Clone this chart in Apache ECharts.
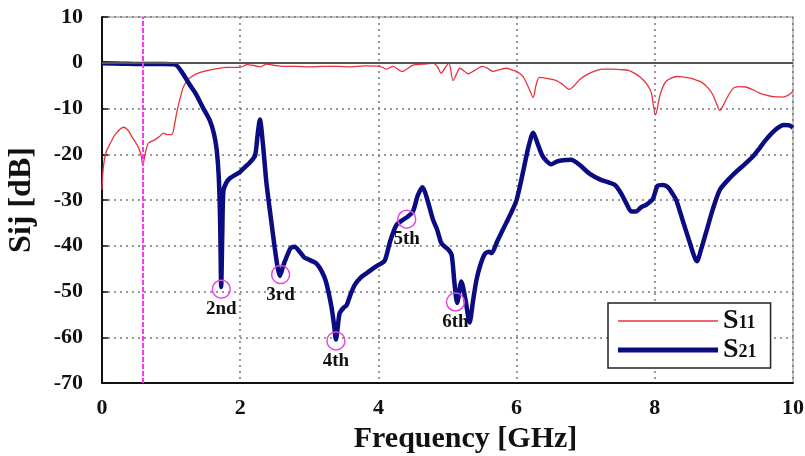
<!DOCTYPE html>
<html>
<head>
<meta charset="utf-8">
<script src="https://cdn.jsdelivr.net/npm/echarts@6/dist/echarts.min.js"></script>
<style>
  html, body { margin: 0; padding: 0; background: #fff; }
  #chart { width: 805px; height: 456px; }
</style>
</head>
<body>
<div id="chart"></div>
<script>
// Frequency axis ticks (GHz) and Sij axis ticks (dB)
const freqTicks = [0, 2, 4, 6, 8, 10];
const dbTicks = [-70, -60, -50, -40, -30, -20, -10, 0, 10];

// Cut-off marker frequency (GHz)
const cutoffFreq = [0.59];

// S11 measurement: [frequency GHz, dB]
const s11 = [
  [0,-27.8],[0.02,-22.7],[0.06,-19.5],[0.12,-17.6],[0.2,-15.5],[0.31,-14.1],[0.38,-14.8],[0.43,-16.1],
  [0.53,-18.6],[0.57,-20.5],[0.59,-22.5],[0.62,-20.3],[0.67,-17.6],[0.77,-16.8],[0.84,-16],[0.89,-15.4],
  [0.94,-15.7],[1.01,-15.7],[1.05,-13.5],[1.08,-11],[1.13,-7.8],[1.18,-5.2],[1.24,-3.8],[1.3,-3],
  [1.4,-2.2],[1.52,-1.7],[1.66,-1.3],[1.81,-1.0],[2.0,-1.0],[2.1,-0.4],[2.2,-0.6],[2.29,-0.9],
  [2.38,-0.3],[2.5,-0.6],[2.62,-0.8],[2.8,-0.8],[3.0,-0.9],[3.2,-0.8],[3.4,-0.8],[3.6,-0.9],
  [3.8,-0.7],[4.02,-0.8],[4.12,-1.4],[4.21,-0.8],[4.34,-1.9],[4.5,-0.5],[4.65,-0.3],[4.79,-0.1],
  [4.85,-0.8],[4.91,-2.3],[4.96,-1.2],[5.02,-0.1],[5.08,-3.9],[5.13,-2.5],[5.18,-1.2],[5.24,-1.8],
  [5.3,-2.4],[5.4,-1.6],[5.51,-0.8],[5.58,-1.2],[5.66,-1.9],[5.75,-1.5],[5.85,-1.2],[5.92,-1.5],
  [6.0,-1.9],[6.08,-2.8],[6.12,-3.7],[6.19,-6],[6.24,-7.6],[6.28,-5],[6.33,-3.2],[6.43,-3.4],
  [6.53,-3.7],[6.6,-4.1],[6.67,-4.8],[6.76,-5.8],[6.84,-4.9],[6.91,-3.7],[7.03,-2.5],[7.15,-1.7],
  [7.27,-1.4],[7.39,-1.4],[7.51,-1.5],[7.63,-1.7],[7.74,-2.6],[7.83,-3.7],[7.9,-5],[7.95,-6.6],
  [8.01,-11.4],[8.07,-7.4],[8.11,-5.5],[8.16,-4.1],[8.23,-3.4],[8.31,-3],[8.4,-3.1],[8.5,-3.3],
  [8.6,-3.8],[8.69,-4.4],[8.77,-5.5],[8.84,-7],[8.9,-9.2],[8.94,-10.4],[8.98,-9.6],[9.03,-8.1],
  [9.09,-6.5],[9.15,-5.4],[9.24,-5.2],[9.32,-5.3],[9.42,-5.9],[9.51,-6.6],[9.61,-7.1],[9.71,-7.4],
  [9.85,-7.5],[9.92,-7.2],[10,-6.3]
];

// S21 measurement: [frequency GHz, dB]
const s21 = [
  [0,-0.1],[0.3,-0.2],[0.6,-0.3],[0.9,-0.3],[1.06,-0.4],[1.18,-2.6],[1.26,-4.6],[1.35,-6.6],
  [1.46,-9.8],[1.56,-12.6],[1.62,-15.5],[1.66,-19],[1.69,-25],[1.71,-35],[1.725,-49],[1.74,-38],
  [1.757,-28],[1.8,-26.2],[1.854,-25.2],[1.93,-24.5],[2.0,-23.8],[2.07,-22.8],[2.14,-21.8],[2.215,-20.3],
  [2.25,-16],[2.285,-12.4],[2.33,-18],[2.38,-26.3],[2.44,-33.5],[2.5,-40.5],[2.545,-45],[2.575,-46.6],
  [2.62,-44.5],[2.67,-42.5],[2.73,-40.5],[2.79,-40.2],[2.86,-41.3],[2.93,-42.6],[2.99,-43],[3.06,-43.5],
  [3.11,-44],[3.18,-45.6],[3.24,-47.8],[3.32,-53.3],[3.36,-57.5],[3.385,-60.5],[3.41,-58],[3.44,-54.7],
  [3.5,-53.5],[3.54,-53],[3.6,-50.5],[3.66,-48.5],[3.74,-47],[3.83,-46],[3.92,-45],[4.0,-44.2],
  [4.09,-43.3],[4.17,-39],[4.26,-35.5],[4.34,-34.5],[4.41,-33.8],[4.5,-32.5],[4.57,-29],[4.64,-27.2],
  [4.7,-29.5],[4.79,-34.3],[4.85,-36.5],[4.91,-39.4],[4.97,-40.3],[5.01,-40.8],[5.06,-42],[5.1,-48],
  [5.14,-52.5],[5.2,-47.8],[5.26,-51.8],[5.32,-56.8],[5.37,-52],[5.42,-47.4],[5.48,-44],[5.54,-41.8],
  [5.6,-41.3],[5.64,-41.6],[5.72,-39],[5.85,-35],[5.93,-32.5],[6.0,-30],[6.09,-24.1],[6.17,-18.5],
  [6.24,-15.3],[6.3,-17.5],[6.38,-20.5],[6.5,-22.2],[6.58,-21.6],[6.67,-21.3],[6.79,-21.2],[6.91,-22.3],
  [7.06,-24.3],[7.22,-25.6],[7.42,-26.7],[7.51,-28.5],[7.59,-30.8],[7.66,-32.5],[7.73,-32.5],[7.8,-31.6],
  [7.88,-31],[7.97,-29.8],[8.04,-26.9],[8.12,-26.7],[8.19,-27.2],[8.26,-28.7],[8.31,-30],[8.4,-34.3],
  [8.5,-39],[8.61,-43.4],[8.67,-40.8],[8.74,-37.2],[8.84,-32],[8.94,-27.8],[9.06,-25.6],[9.18,-23.8],
  [9.3,-22.2],[9.42,-20.5],[9.52,-18.6],[9.61,-16.8],[9.75,-14.6],[9.87,-13.6],[9.95,-13.7],[10.0,-14.2]
];

// Harmonic notches marked on S21
const harmFreq = [1.727, 2.585, 3.386, 4.41, 5.115];
const harmLoss = [-49.5, -46.3, -60.8, -34.2, -52.3];
const harmLabels = ['2nd', '3rd', '4th', '5th', '6th'];

const serif = 'Liberation Serif, Times New Roman, serif';
const RED = '#e8333c';
const NAVY = '#0c0c82';

const chart = echarts.init(document.getElementById('chart'), null, { renderer: 'canvas' });

chart.setOption({
  animation: false,
  backgroundColor: '#fff',
  grid: {
    left: 102, right: 12, top: 17, bottom: 73,
    outerBoundsMode: 'none',
    containLabel: false,
    show: true, borderColor: '#888', borderWidth: 1, backgroundColor: 'transparent'
  },
  xAxis: {
    type: 'value',
    min: freqTicks[0], max: freqTicks[freqTicks.length - 1], interval: 2,
    name: 'Frequency [GHz]',
    nameLocation: 'middle', nameGap: 40,
    nameTextStyle: { fontFamily: serif, fontWeight: 'bold', fontSize: 30, color: '#111', padding: [0, 0, 0, 36] },
    axisLine: { onZero: false, lineStyle: { color: '#111', width: 2 } },
    axisTick: { show: false },
    axisLabel: { fontFamily: serif, fontWeight: 'bold', fontSize: 22, color: '#111', margin: 14 },
    splitLine: { show: true, lineStyle: { color: '#777', type: [2, 4], width: 1.5 } }
  },
  yAxis: {
    type: 'value',
    min: dbTicks[0], max: dbTicks[dbTicks.length - 1], interval: 10,
    name: 'Sij [dB]',
    nameLocation: 'middle', nameGap: 64, nameRotate: 90,
    nameTextStyle: { fontFamily: serif, fontWeight: 'bold', fontSize: 32, color: '#111' },
    axisLine: { show: true, lineStyle: { color: '#111', width: 2 } },
    axisTick: { show: true, inside: true, length: 6, lineStyle: { color: '#111', width: 1.5 } },
    axisLabel: { fontFamily: serif, fontWeight: 'bold', fontSize: 22, color: '#111', margin: 19 },
    splitLine: { show: true, lineStyle: { color: '#777', type: [2, 4], width: 1.5 } }
  },
  legend: {
    data: [
      { name: 'S11', icon: 'path://M0,0H100V1.5H0Z', itemStyle: { color: RED } },
      { name: 'S21', icon: 'path://M0,0H100V5H0Z', itemStyle: { color: NAVY } }
    ],
    orient: 'vertical',
    left: 608, top: 303,
    padding: [4, 14, 4, 10],
    backgroundColor: '#fff',
    borderColor: '#222', borderWidth: 1.5,
    itemWidth: 100, itemHeight: 18, itemGap: 1,
    selectedMode: false,
    textStyle: {
      fontFamily: serif, fontWeight: 'bold', color: '#111',
      rich: {
        s: { fontFamily: serif, fontWeight: 'bold', fontSize: 28, color: '#111', lineHeight: 26 },
        sub: { fontFamily: serif, fontWeight: 'bold', fontSize: 18, color: '#111', lineHeight: 26, padding: [5, 0, 0, 0] }
      }
    },
    formatter: name => '{s|S}{sub|' + name.slice(1) + '}'
  },
  series: [
    {
      name: 'S11',
      type: 'line',
      data: s11,
      symbol: 'none',
      smooth: 0.3,
      lineStyle: { color: RED, width: 1.3 },
      itemStyle: { color: RED },
      z: 3,
      markLine: {
        silent: true,
        symbol: 'none',
        label: { show: false },
        animation: false,
        data: [
          { yAxis: 0, lineStyle: { color: '#555', type: 'solid', width: 2 } },
          ...cutoffFreq.map(f => ({ xAxis: f, lineStyle: { color: '#ff33ff', type: [5, 2], width: 2 } }))
        ]
      }
    },
    {
      name: 'S21',
      type: 'line',
      data: s21,
      symbol: 'none',
      smooth: 0.25,
      lineStyle: { color: NAVY, width: 4.5 },
      itemStyle: { color: NAVY },
      z: 4
    },
    {
      name: 'harmonics',
      type: 'scatter',
      data: harmFreq.map((f, i) => [f, harmLoss[i], harmLabels[i]]),
      symbol: 'circle',
      symbolSize: 18,
      itemStyle: { color: 'rgba(0,0,0,0)', borderColor: '#e24be2', borderWidth: 1.5, opacity: 1 },
      label: {
        show: true,
        position: 'bottom',
        distance: 1,
        formatter: p => p.data[2],
        fontFamily: serif, fontWeight: 'bold', fontSize: 19, color: '#111'
      },
      z: 5
    }
  ]
});
</script>
</body>
</html>
